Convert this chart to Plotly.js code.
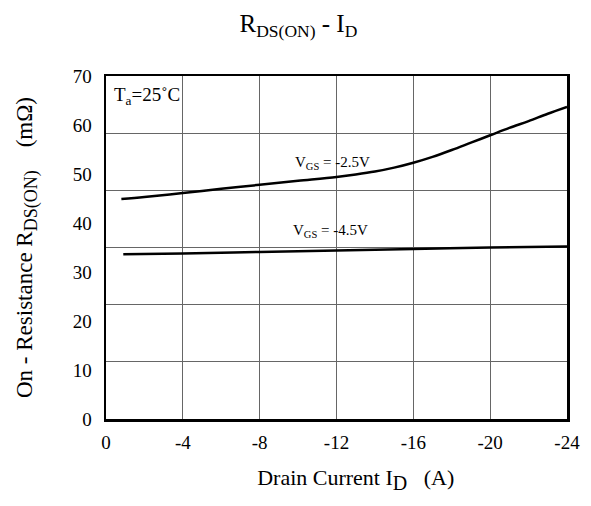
<!DOCTYPE html>
<html>
<head>
<meta charset="utf-8">
<script src="https://cdn.plot.ly/plotly-3.0.1.min.js"></script>
<style>html,body{margin:0;padding:0;background:#fff;}#chart{width:591px;height:506px;}</style>
</head>
<body>
<div id="chart"></div>
<script>
// Data (I_D in A, R_DS(ON) in mΩ)
const id25 = [-0.8, -2, -4, -6, -8, -10, -12, -13, -14, -15, -16, -17, -18, -19, -20, -21, -22, -23, -24];
const r25  = [44.9, 45.3, 46.1, 47.0, 47.8, 48.6, 49.4, 49.9, 50.5, 51.3, 52.3, 53.5, 54.9, 56.4, 57.9, 59.4, 60.8, 62.3, 63.7];
const id45 = [-0.9, -4, -8, -12, -16, -20, -24];
const r45  = [33.6, 33.8, 34.1, 34.4, 34.7, 35.0, 35.2];
const xTicks = [0, -4, -8, -12, -16, -20, -24];
const xTickText = ['0', '-4', '-8', '-12', '-16', '-20', '-24'];
const yTicks = [0, 10, 20, 30, 40, 50, 60, 70];
const curveLabels = ['V<sub>GS</sub> = -2.5V', 'V<sub>GS</sub> = -4.5V'];
const labelX = [-11.8, -11.7];
const labelY = [52.2, 38.4];

const font = 'Liberation Serif, Times New Roman, serif';

const traces = [
  {x: id25, y: r25, type: 'scatter', mode: 'lines', line: {color: '#000', width: 2.5, shape: 'spline', smoothing: 1}, name: 'VGS=-2.5V', showlegend: false, hoverinfo: 'x+y'},
  {x: id45, y: r45, type: 'scatter', mode: 'lines', line: {color: '#000', width: 2.5, shape: 'spline'}, name: 'VGS=-4.5V', showlegend: false, hoverinfo: 'x+y'}
];

const layout = {
  width: 591, height: 506,
  margin: {l: 106, r: 24, t: 76, b: 87},
  paper_bgcolor: '#fff', plot_bgcolor: '#fff',
  font: {family: font, color: '#000', size: 19},
  title: {text: 'R<sub>DS(ON)</sub> - I<sub>D</sub>', font: {family: font, size: 25, color: '#000'}, x: 0.505, xanchor: 'center', y: 0.955, yanchor: 'middle'},
  showlegend: false,
  xaxis: {
    range: [0, -24], tickvals: xTicks, ticktext: xTickText,
    showgrid: true, gridcolor: '#666', gridwidth: 1,
    zeroline: false, showline: true, linecolor: '#000', linewidth: 2.5, mirror: true,
    ticks: '', ticklabelstandoff: 5,
    tickfont: {family: font, size: 19, color: '#000'},
    title: {text: '&nbsp;&nbsp;&nbsp;&nbsp;&nbsp;&nbsp;&nbsp;Drain Current I<sub><span style="font-size:20px">D</span></sub>&nbsp;&nbsp;&nbsp;(A)', font: {family: font, size: 22, color: '#000'}, standoff: 18}
  },
  yaxis: {
    range: [0, 70], tickvals: yTicks,
    showgrid: false, zeroline: false, showline: true, linecolor: '#000', linewidth: 2.5, mirror: true,
    ticks: '', ticklabelstandoff: 8,
    tickfont: {family: font, size: 19, color: '#000'},
    title: {text: 'On - Resistance R<sub><span style="font-size:18px">DS(ON)</span></sub>&nbsp;&nbsp;&nbsp;&nbsp;(mΩ)', font: {family: font, size: 23, color: '#000'}, standoff: 34}
  },
  yaxis2: {
    overlaying: 'y', range: [0, 6], dtick: 1, tick0: 0,
    showgrid: true, gridcolor: '#666', gridwidth: 1,
    showticklabels: false, zeroline: false, showline: false, ticks: ''
  },
  annotations: [
    {x: labelX[0], y: labelY[0], xref: 'x', yref: 'y', text: curveLabels[0], showarrow: false, font: {family: font, size: 15, color: '#000'}},
    {x: labelX[1], y: labelY[1], xref: 'x', yref: 'y', text: curveLabels[1], showarrow: false, font: {family: font, size: 15, color: '#000'}},
    {x: -0.3, y: 65.9, xref: 'x', yref: 'y', xanchor: 'left', text: 'T<sub>a</sub>=25˚C', showarrow: false, font: {family: font, size: 19, color: '#000'}}
  ]
};

// invisible point that activates the overlaid grid axis
traces.push({x: [0], y: [0], yaxis: 'y2', type: 'scatter', mode: 'markers', marker: {opacity: 0}, hoverinfo: 'skip', showlegend: false});

Plotly.newPlot('chart', traces, layout, {displayModeBar: false, staticPlot: true});
</script>
</body>
</html>
